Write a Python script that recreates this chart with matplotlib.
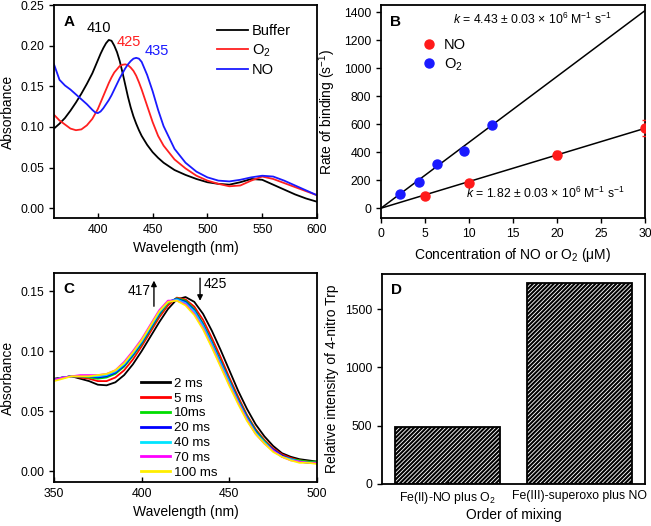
import matplotlib
matplotlib.use("Agg")
import matplotlib.pyplot as plt
import numpy as np

plt.rcParams['font.family'] = ['Liberation Sans', 'DejaVu Sans']
plt.rcParams['hatch.linewidth'] = 1.5
plt.rcParams['mathtext.fontset'] = 'custom'
plt.rcParams['mathtext.rm'] = 'Liberation Sans'
plt.rcParams['mathtext.it'] = 'Liberation Sans:italic'

# ---------------- Panel A data ----------------
wl_a = [360, 365, 370, 375, 380, 385, 390, 395, 397.5, 400, 402.5, 405, 407.5, 410, 412.5,
        415, 417.5, 420, 422.5, 425, 427.5, 430, 432.5, 435, 437.5, 440, 445, 450, 455,
        460, 470, 480, 490, 500, 510, 520, 530, 540, 550, 560, 570, 580, 590, 600]
buffer_abs = [0.098, 0.104, 0.111, 0.120, 0.130, 0.141, 0.153, 0.166, 0.174, 0.182, 0.190,
              0.197, 0.203, 0.207, 0.206, 0.200, 0.192, 0.181, 0.167, 0.152, 0.137, 0.124,
              0.113, 0.104, 0.096, 0.089, 0.078, 0.069, 0.062, 0.056, 0.047, 0.041, 0.036,
              0.032, 0.030, 0.029, 0.032, 0.036, 0.035, 0.029, 0.023, 0.017, 0.012, 0.008]
o2_abs = [0.115, 0.108, 0.103, 0.098, 0.096, 0.097, 0.102, 0.110, 0.116, 0.122, 0.130,
          0.138, 0.146, 0.154, 0.161, 0.167, 0.171, 0.175, 0.1765, 0.177, 0.176, 0.173,
          0.169, 0.163, 0.155, 0.146, 0.126, 0.106, 0.089, 0.077, 0.060, 0.049, 0.040,
          0.034, 0.030, 0.027, 0.028, 0.034, 0.039, 0.036, 0.031, 0.026, 0.021, 0.016]
no_abs = [0.177, 0.158, 0.151, 0.146, 0.140, 0.134, 0.128, 0.121, 0.118, 0.117, 0.119,
          0.123, 0.128, 0.133, 0.139, 0.146, 0.153, 0.160, 0.166, 0.172, 0.177, 0.181,
          0.184, 0.185, 0.184, 0.180, 0.164, 0.144, 0.121, 0.101, 0.073, 0.056, 0.045,
          0.038, 0.034, 0.033, 0.035, 0.038, 0.040, 0.039, 0.034, 0.028, 0.022, 0.016]
peak_labels_a = ["410", "425", "435"]

# ---------------- Panel B data ----------------
no_conc = [5, 10, 20, 30]
no_rate = [85, 178, 380, 572]
no_err = [8, 12, 28, 55]
o2_conc = [2.2, 4.3, 6.4, 9.4, 12.6]
o2_rate = [102, 188, 315, 410, 597]
fit_x = [0, 30]
fit_o2 = [0, 1410]
fit_no = [0, 570]

# ---------------- Panel C data ----------------
wl_c = [350, 355, 360, 365, 370, 375, 380, 385, 390, 395, 400, 405, 410, 415, 420, 425,
        430, 435, 440, 445, 450, 455, 460, 465, 470, 475, 480, 485, 490, 495, 500]
abs_2ms = [0.077, 0.078, 0.079, 0.077, 0.075, 0.072, 0.0715, 0.074, 0.080, 0.089, 0.100,
           0.112, 0.124, 0.135, 0.143, 0.145, 0.141, 0.131, 0.117, 0.101, 0.084, 0.067,
           0.052, 0.039, 0.029, 0.021, 0.015, 0.012, 0.010, 0.009, 0.008]
abs_5ms = [0.076, 0.078, 0.079, 0.078, 0.077, 0.075, 0.075, 0.078, 0.084, 0.093, 0.104,
           0.116, 0.128, 0.138, 0.1445, 0.143, 0.137, 0.126, 0.111, 0.095, 0.078, 0.062,
           0.047, 0.035, 0.026, 0.019, 0.014, 0.011, 0.009, 0.008, 0.007]
abs_10ms = [0.076, 0.078, 0.079, 0.079, 0.078, 0.077, 0.078, 0.081, 0.087, 0.096, 0.106,
            0.118, 0.130, 0.140, 0.144, 0.142, 0.135, 0.123, 0.108, 0.092, 0.076, 0.060,
            0.046, 0.034, 0.025, 0.018, 0.013, 0.010, 0.009, 0.008, 0.008]
abs_20ms = [0.076, 0.078, 0.079, 0.079, 0.079, 0.078, 0.079, 0.082, 0.088, 0.097, 0.107,
            0.119, 0.131, 0.141, 0.1435, 0.141, 0.134, 0.122, 0.107, 0.091, 0.075, 0.059,
            0.045, 0.033, 0.024, 0.018, 0.013, 0.010, 0.008, 0.007, 0.007]
abs_40ms = [0.076, 0.078, 0.079, 0.079, 0.079, 0.079, 0.080, 0.083, 0.089, 0.098, 0.108,
            0.120, 0.132, 0.141, 0.143, 0.140, 0.133, 0.121, 0.106, 0.090, 0.074, 0.058,
            0.044, 0.032, 0.024, 0.017, 0.012, 0.010, 0.008, 0.007, 0.007]
abs_70ms = [0.076, 0.078, 0.079, 0.080, 0.080, 0.080, 0.081, 0.084, 0.091, 0.100, 0.110,
            0.122, 0.134, 0.142, 0.142, 0.139, 0.131, 0.119, 0.104, 0.088, 0.072, 0.057,
            0.043, 0.031, 0.023, 0.017, 0.012, 0.009, 0.008, 0.007, 0.007]
abs_100ms = [0.075, 0.077, 0.079, 0.079, 0.079, 0.080, 0.081, 0.084, 0.090, 0.099, 0.109,
             0.121, 0.133, 0.141, 0.142, 0.138, 0.130, 0.118, 0.103, 0.087, 0.071, 0.056,
             0.042, 0.031, 0.023, 0.016, 0.012, 0.009, 0.007, 0.007, 0.006]
time_labels = ["2 ms", "5 ms", "10ms", "20 ms", "40 ms", "70 ms", "100 ms"]
time_colors = ["#000000", "#ff0000", "#00dd00", "#0000ff", "#00e5ff", "#ff00ff", "#ffee00"]

# ---------------- Panel D data ----------------
mix_labels = ["Fe(II)-NO plus O$_2$", "Fe(III)-superoxo plus NO"]
intensity = [490, 1720]

W, H = 651, 526
fig = plt.figure(figsize=(W / 100, H / 100), dpi=100)


def px_axes(l, r, t, b):
    return fig.add_axes([l / W, (H - b) / H, (r - l) / W, (b - t) / H])


TICK_FS = 8.8
LAB_FS = 10


def style(ax, xin=True):
    for s in ax.spines.values():
        s.set_linewidth(1.3)
    ax.tick_params(axis='y', direction='out', length=3.5, width=1.0, labelsize=TICK_FS)
    ax.tick_params(axis='x', direction='in' if xin else 'out', length=3.5, width=1.0,
                   labelsize=TICK_FS, pad=4)


# ---- A ----
axA = px_axes(54, 317, 5, 218)
axA.plot(wl_a, buffer_abs, color='black', lw=1.3, label='Buffer')
axA.plot(wl_a, o2_abs, color='#ff2020', lw=1.3, label='O$_2$')
axA.plot(wl_a, no_abs, color='#1a1aff', lw=1.3, label='NO')
axA.set_xlim(360, 600)
axA.set_ylim(-0.012, 0.25)
axA.set_xticks([400, 450, 500, 550, 600])
axA.set_yticks([0.0, 0.05, 0.10, 0.15, 0.20, 0.25])
axA.yaxis.set_major_formatter(matplotlib.ticker.FormatStrFormatter('%.2f'))
axA.set_xlabel('Wavelength (nm)', fontsize=LAB_FS)
axA.set_ylabel('Absorbance', fontsize=LAB_FS)
style(axA)
axA.text(401, 0.222, peak_labels_a[0], color='black', fontsize=10.5, ha='center', va='center')
axA.text(428, 0.2045, peak_labels_a[1], color='#ff2020', fontsize=10.5, ha='center', va='center')
axA.text(453.5, 0.194, peak_labels_a[2], color='#1a1aff', fontsize=10.5, ha='center', va='center')
axA.text(0.035, 0.955, 'A', transform=axA.transAxes, fontsize=11, fontweight='bold', va='top')
axA.legend(loc='upper left', bbox_to_anchor=(0.62, 0.91), frameon=False, fontsize=10.5,
           handlelength=2.15, handletextpad=0.25, labelspacing=0.3, borderpad=0,
           borderaxespad=0)

# ---- B ----
axB = px_axes(381, 645, 5, 218)
axB.plot(fit_x, fit_o2, color='black', lw=1.1, zorder=2)
axB.plot(fit_x, fit_no, color='black', lw=1.1, zorder=2)
eb = axB.errorbar(no_conc, no_rate, yerr=no_err, fmt='o', color='#ff1a1a', ms=6.5,
                  capsize=2.5, elinewidth=1.0, zorder=3)
o2_pts, = axB.plot(o2_conc, o2_rate, 'o', color='#1a1aff', ms=6.5, zorder=3)
no_handle, = axB.plot([], [], 'o', color='#ff1a1a', ms=6.5)
axB.set_xlim(0, 30)
axB.set_ylim(-70, 1450)
axB.set_xticks([0, 5, 10, 15, 20, 25, 30])
axB.set_yticks([0, 200, 400, 600, 800, 1000, 1200, 1400])
axB.set_xlabel('Concentration of NO or O$_2$ (\u03bcM)', fontsize=LAB_FS)
axB.set_ylabel('Rate of binding (s$^{-1}$)', fontsize=LAB_FS)
style(axB, xin=False)
axB.text(8.2, 1345, '$k$ = 4.43 \u00b1 0.03 \u00d7 10$^{6}$ M$^{\u22121}$ s$^{\u22121}$',
         fontsize=8.8, va='center', ha='left')
axB.text(9.7, 107, '$k$ = 1.82 \u00b1 0.03 \u00d7 10$^{6}$ M$^{\u22121}$ s$^{\u22121}$',
         fontsize=8.8, va='center', ha='left')
axB.text(0.035, 0.955, 'B', transform=axB.transAxes, fontsize=11, fontweight='bold', va='top')
axB.legend([no_handle, o2_pts], ['NO', 'O$_2$'], loc='upper left',
           bbox_to_anchor=(0.155, 0.845), frameon=False, fontsize=10.5,
           handletextpad=0.5, labelspacing=0.3, borderpad=0, borderaxespad=0,
           handlelength=1.0)

# ---- C ----
axC = px_axes(54, 317, 273, 482)
series_c = [abs_2ms, abs_5ms, abs_10ms, abs_20ms, abs_40ms, abs_70ms, abs_100ms]
for vals, lab, col in zip(series_c, time_labels, time_colors):
    axC.plot(wl_c, vals, color=col, lw=1.3, label=lab)
axC.set_xlim(350, 500)
axC.set_ylim(-0.009, 0.165)
axC.set_xticks([350, 400, 450, 500])
axC.set_yticks([0.0, 0.05, 0.10, 0.15])
axC.yaxis.set_major_formatter(matplotlib.ticker.FormatStrFormatter('%.2f'))
axC.set_xlabel('Wavelength (nm)', fontsize=LAB_FS)
axC.set_ylabel('Absorbance', fontsize=LAB_FS)
style(axC)
axC.annotate('', xy=(407, 0.161), xytext=(407, 0.135),
             arrowprops=dict(arrowstyle='-|>', color='black', lw=1.0, mutation_scale=8))
axC.annotate('', xy=(433.3, 0.1395), xytext=(433.3, 0.163),
             arrowprops=dict(arrowstyle='-|>', color='black', lw=1.0, mutation_scale=8))
axC.text(405, 0.150, '417', fontsize=10, ha='right', va='center')
axC.text(435.2, 0.156, '425', fontsize=10, ha='left', va='center')
axC.text(0.035, 0.955, 'C', transform=axC.transAxes, fontsize=11, fontweight='bold', va='top')
leg = axC.legend(loc='upper left', bbox_to_anchor=(0.33, 0.50), frameon=False, fontsize=9.5,
                 handlelength=2.2, handletextpad=0.3, labelspacing=0.2, borderpad=0,
                 borderaxespad=0)
for ln in leg.get_lines():
    ln.set_linewidth(2.0)

# ---- D ----
axD = px_axes(382, 645, 274, 484)
axD.bar([0, 1], intensity, width=0.8, color='white', edgecolor='black', hatch='////////',
        linewidth=1.3)
axD.set_xlim(-0.5, 1.5)
axD.set_ylim(0, 1800)
axD.set_xticks([0, 1])
axD.set_xticklabels(mix_labels)
axD.set_yticks([0, 500, 1000, 1500])
axD.set_xlabel('Order of mixing', fontsize=LAB_FS, labelpad=2)
axD.set_ylabel('Relative intensity of 4-nitro Trp', fontsize=LAB_FS)
style(axD)
axD.tick_params(axis='x', length=2.5)
axD.text(0.035, 0.955, 'D', transform=axD.transAxes, fontsize=11, fontweight='bold', va='top')

fig.savefig('out.png', dpi=100)
